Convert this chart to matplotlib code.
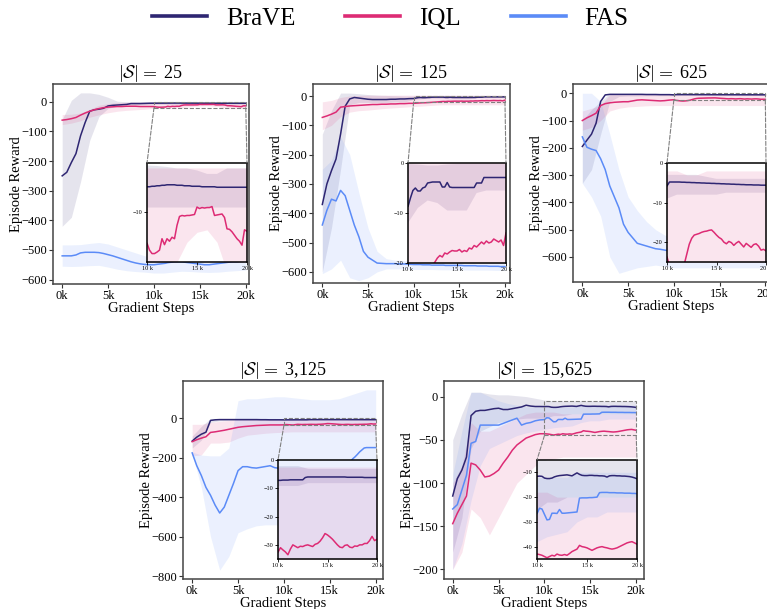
import numpy as np
import matplotlib
matplotlib.use("Agg")
import matplotlib.pyplot as plt
from matplotlib.patches import Rectangle, ConnectionPatch
from matplotlib.lines import Line2D

plt.rcParams["font.family"] = ["Liberation Serif", "DejaVu Serif"]
plt.rcParams["mathtext.fontset"] = "cm"

# x grids: means every 500 steps up to 10k, then every 250 steps (zoomed part)
steps = np.r_[np.arange(0, 10000, 500), np.arange(10000, 20001, 250)]
band_steps = np.arange(0, 20001, 1000)

labels = ["BraVE", "IQL", "FAS"]
colors = ["#2e2672", "#dd2b74", "#5b8bf7"]

# ---------------- |S| = 25 ----------------
brave_25 = [-250, -238, -205, -175, -115, -70, -32, -27, -25, -22,
            -14, -12, -11, -10, -9, -6, -6, -6, -5.5, -5,
            -4.8, -4.8, -4.7, -4.7, -4.6, -4.6, -4.5, -4.5, -4.4, -4.4,
            -4.4, -4.4, -4.5, -4.5, -4.5, -4.6, -4.6, -4.6, -4.7, -4.7,
            -4.7, -4.7, -4.8, -4.8, -4.8, -4.8, -4.8, -4.8, -4.9, -4.9,
            -4.9, -4.9, -4.9, -4.9, -4.9, -4.9, -4.9, -4.9, -4.9, -4.9, -4.9]
iql_25 = [-62, -60, -57, -53, -45, -38, -32, -27, -23, -20,
          -18, -17, -16, -16, -15, -15, -15, -16, -16, -16,
          -16.2, -17.6, -18.3, -18.3, -18.0, -17.6, -15.3, -16.5, -15.3, -15.8,
          -15.0, -15.3, -12.6, -10.8, -10.6, -10.7, -10.6, -10.6, -10.5, -10.4,
          -8.9, -9.2, -9.0, -9.1, -9.0, -9.0, -8.8, -10.6, -10.5, -10.4,
          -10.3, -11.0, -13.3, -13.4, -13.9, -14.6, -15.3, -15.8, -16.6, -13.5, -13.8]
fas_25 = [-520, -520, -520, -517, -510, -508, -508, -508, -509, -512,
          -516, -520, -525, -530, -535, -540, -544, -547, -549, -550,
          -550, -549, -548, -547, -546, -545, -543, -542, -541, -540,
          -540, -540, -540, -541, -542, -543, -544, -545, -546, -547,
          -548, -549, -550, -550, -550, -549, -548, -547, -546, -545,
          -544, -543, -542, -541, -540, -540, -540, -539, -538, -537, -536]
brave_25_lo = [-420, -390, -270, -130, -50, -22, -14, -10, -9, -9, -9,
               -9, -9, -9, -9, -9, -9, -9, -9, -9, -9]
brave_25_hi = [-60, 5, 30, 30, 25, 15, 2, 0, -0.5, -0.5, -0.5,
               -0.6, -0.8, -1.1, -1.1, -1.5, -2.2, -2.2, -1.1, -1.1, -1.1]
iql_25_lo = [-77, -72, -64, -52, -44, -37, -32, -29, -27, -25, -22,
             -22, -21, -20, -16, -14, -13.5, -16, -22, -22, -22]
iql_25_hi = [-43, -42, -38, -25, -12, -6, -3, -2, -1, -1, -1,
             -1, -1, -1, -1, -1, -1, -1, -1, -1, -1]
fas_25_lo = [-555, -556, -555, -553, -552, -558, -565, -570, -573, -575, -578,
             -578, -575, -572, -573, -575, -576, -575, -572, -570, -568]
fas_25_hi = [-483, -483, -482, -478, -475, -480, -490, -500, -510, -520, -525,
             -522, -515, -512, -513, -517, -520, -518, -512, -510, -508]

# ---------------- |S| = 125 ----------------
brave_125 = [-370, -300, -255, -215, -130, -35, -10, -5, -7, -9,
             -11, -12, -12, -12, -12, -11, -11, -10, -10, -9,
             -8.7, -7.0, -5.5, -5.0, -5.6, -5.6, -5.0, -4.8, -4.0, -3.9,
             -3.8, -3.8, -3.8, -3.8, -4.8, -4.8, -3.9, -4.8, -4.9, -4.9,
             -4.9, -4.9, -4.9, -4.9, -4.9, -4.9, -4.9, -4.9, -4.0, -4.0,
             -4.0, -2.9, -2.9, -2.9, -2.9, -2.9, -2.9, -2.9, -2.9, -2.9, -2.9]
iql_125 = [-73, -68, -62, -55, -38, -36, -34, -33, -32, -31,
           -30, -29, -29, -28, -28, -27, -27, -26, -26, -25,
           -25.0, -24.5, -24.0, -23.5, -23.0, -23.0, -22.5, -22.0, -21.5, -21.0,
           -20.5, -19.8, -19.0, -18.5, -18.8, -18.0, -18.2, -17.8, -17.5, -17.6,
           -17.6, -17.3, -17.8, -17.5, -17.7, -17.0, -17.2, -16.5, -16.8, -16.3,
           -15.8, -16.2, -15.6, -16.0, -15.8, -15.2, -15.5, -15.8, -15.4, -16.5, -14.0]
fas_125 = [-440, -390, -352, -358, -322, -340, -390, -440, -480, -530,
           -550, -560, -570, -571, -572, -572, -572, -573, -573, -574,
           -575, -575, -575, -575, -576, -576, -576, -576, -577, -577,
           -577, -577, -577, -577, -578, -578, -578, -578, -578, -578,
           -578, -578, -579, -579, -579, -579, -579, -579, -580, -580,
           -580, -580, -580, -581, -581, -581, -581, -581, -582, -582, -582]
brave_125_lo = [-600, -450, -250, -30, -22, -22, -22, -22, -20, -20, -12,
                -9, -7.5, -8, -9.5, -9.5, -9.5, -6, -5.5, -5.5, -5.5]
brave_125_hi = [-130, -50, 10, 10, 8, 5, 3, 2, 1, 0, -0.2,
                -0.3, -0.5, -0.5, -0.3, -0.2, -0.2, -0.2, -0.2, -0.2, -0.2]
iql_125_lo = [-115, -100, -70, -55, -50, -48, -45, -42, -40, -38, -36,
              -34, -32, -30, -30, -30, -30, -30, -30, -30, -30]
iql_125_hi = [-20, -15, -5, 0, 2, 3, 3, 3, 3, 3, 3,
              3, 3, 3, 3, 3, 3, 3, 3, 3, 3]
fas_125_lo = [-606, -590, -560, -620, -630, -620, -600, -590, -590, -590, -592,
              -592, -592, -593, -593, -593, -594, -594, -594, -595, -595]
fas_125_hi = [-250, -220, -140, -200, -330, -450, -530, -555, -560, -562, -563,
              -563, -564, -564, -565, -565, -566, -566, -567, -568, -568]

# ---------------- |S| = 625 ----------------
brave_625 = [-195, -172, -150, -110, -30, -6, -4, -4, -4, -4,
             -4, -4, -4, -4, -4.5, -4.5, -4.5, -5, -5, -5,
             -5.8, -4.8, -4.8, -4.8, -4.8, -4.8, -4.85, -4.85, -4.9, -4.9,
             -4.95, -4.95, -5.0, -5.0, -5.05, -5.05, -5.1, -5.1, -5.15, -5.15,
             -5.2, -5.2, -5.25, -5.25, -5.3, -5.3, -5.35, -5.35, -5.4, -5.4,
             -5.45, -5.45, -5.5, -5.5, -5.5, -5.55, -5.55, -5.55, -5.6, -5.6, -5.6]
iql_625 = [-100, -90, -82, -73, -45, -38, -35, -33, -32, -31,
           -31, -28, -25, -24, -25, -26, -27, -28, -27, -25,
           -23.7, -26.0, -27.0, -28.0, -28.5, -28.0, -27.0, -25.5, -23.0, -20.5,
           -19.0, -18.2, -18.0, -17.8, -17.5, -17.3, -17.2, -17.0, -16.9, -17.5,
           -18.2, -18.8, -19.2, -20.0, -20.4, -19.8, -20.1, -20.8, -20.2, -19.8,
           -20.5, -21.2, -20.3, -20.8, -21.3, -20.6, -20.4, -21.0, -22.0, -21.8, -22.2]
fas_625 = [-160, -198, -205, -210, -240, -280, -340, -380, -420, -480,
           -510, -530, -550, -555, -560, -565, -570, -572, -575, -578,
           -580, -581, -582, -582, -583, -583, -584, -584, -585, -585,
           -586, -586, -587, -587, -588, -588, -588, -589, -589, -589,
           -590, -590, -590, -591, -591, -591, -592, -592, -592, -592,
           -593, -593, -593, -593, -594, -594, -594, -594, -595, -595, -595]
brave_625_lo = [-330, -280, -150, -30, -12, -10, -10, -9, -9, -9, -9,
                -8, -8, -8, -8, -8, -7.5, -7.5, -7.5, -7.5, -7.5]
brave_625_hi = [-100, -60, -30, 0, -1, -1, -1, -1, -1, -2, -3,
                -3, -3, -3, -3.5, -4, -4, -4, -4, -4, -4]
iql_625_lo = [-135, -125, -100, -65, -55, -50, -48, -46, -45, -45, -45,
              -45, -45, -45, -45, -45, -45, -45, -45, -45, -45]
iql_625_hi = [-65, -55, -45, -5, -2, -2, -2, -2, -2, -2, -2,
              -2, -3, -3, -2, -2, -2, -2, -2, -2, -2]
fas_625_lo = [-330, -380, -450, -600, -660, -650, -640, -635, -630, -635, -640,
              -640, -640, -640, -640, -640, -640, -640, -640, -640, -640]
fas_625_hi = [0, 0, -30, -150, -280, -380, -430, -470, -500, -520, -530,
              -535, -540, -540, -545, -545, -545, -545, -545, -545, -545]

# ---------------- |S| = 3,125 ----------------
brave_3125 = [-115, -95, -80, -70, -10, -7, -6, -6, -6, -6,
              -6, -6, -6, -6, -6, -6.5, -6.5, -7, -7, -7,
              -7.2, -7.2, -7.1, -7.1, -7.1, -7.0, -7.0, -7.0, -7.0, -7.0,
              -7.0, -6.2, -6.0, -6.0, -6.0, -6.0, -6.0, -6.0, -6.0, -6.0,
              -6.0, -6.0, -6.0, -6.0, -6.0, -6.0, -6.0, -6.0, -6.1, -6.1,
              -6.1, -6.1, -6.1, -6.1, -6.1, -6.2, -6.2, -6.2, -6.2, -6.2, -6.2]
iql_3125 = [-118, -108, -100, -93, -71, -68, -64, -60, -55, -50,
            -45, -42, -40, -38, -36, -35, -34, -33, -33, -33,
            -32.6, -31.0, -31.8, -32.5, -33.5, -31.5, -30.0, -30.5, -31.0, -30.5,
            -30.6, -30.2, -30.0, -30.3, -30.6, -29.8, -29.5, -28.7, -27.5, -26.0,
            -26.5, -27.2, -28.0, -29.0, -30.0, -30.8, -31.0, -30.2, -30.0, -30.8,
            -31.0, -30.4, -30.5, -30.0, -30.0, -29.5, -29.5, -28.5, -27.0, -28.5, -28.0]
fas_3125 = [-175, -240, -290, -350, -390, -440, -480, -450, -390, -330,
            -265, -245, -245, -250, -252, -248, -244, -240, -250, -253,
            -255, -255, -254, -254, -253, -252, -252, -251, -250, -250,
            -249, -248, -248, -247, -246, -245, -245, -244, -243, -242,
            -241, -240, -240, -239, -238, -237, -236, -235, -230, -220,
            -205, -195, -183, -170, -160, -150, -148, -148, -148, -148, -148]
brave_3125_lo = [-150, -110, -20, -12, -10, -10, -10, -10, -10, -10, -9,
                 -9, -9, -8, -8, -8, -8, -8, -8, -8, -8]
brave_3125_hi = [-90, -40, 0, 0, 0, 0, 0, 0, 0, 0, -2,
                 -2, -2, -3, -3, -3, -3, -3, -3, -3, -3]
iql_3125_lo = [-190, -185, -125, -125, -120, -100, -85, -80, -75, -72, -70,
               -68, -68, -68, -68, -68, -68, -68, -68, -68, -68]
iql_3125_hi = [-30, -30, -20, -15, -10, -5, -3, -2.5, -2.5, -2.5, -2.5,
               -2.5, -2.5, -2.5, -2.5, -2.5, -2.5, -2.5, -2.5, -2.5, -2.5]
fas_3125_lo = [-180, -350, -600, -770, -700, -580, -560, -545, -540, -540, -540,
               -535, -530, -520, -510, -500, -490, -470, -440, -420, -420]
fas_3125_hi = [-170, -186, -190, -190, -150, 90, 100, 100, 105, 110, 110,
               105, 100, 95, 95, 95, 100, 115, 130, 145, 145]

# ---------------- |S| = 15,625 ----------------
brave_15625 = [-115, -95, -85, -70, -22, -17, -16, -16, -15, -14,
               -13.5, -15, -15, -14, -13, -12, -10, -11, -11.5, -11.5,
               -11.6, -11.5, -11.6, -12.3, -12.5, -12.5, -12.3, -11.8, -11.5, -11.3,
               -11.2, -11.1, -11.0, -11.2, -11.4, -10.8, -10.2, -10.8, -11.2, -11.3,
               -11.3, -11.2, -11.2, -11.3, -11.3, -11.4, -11.4, -11.5, -11.9, -11.4,
               -11.3, -11.3, -11.4, -11.4, -11.5, -11.5, -11.6, -11.7, -11.9, -12.2, -12.6]
iql_15625 = [-147, -135, -125, -115, -77, -79, -85, -93, -92, -89,
             -85, -77, -70, -62, -56, -52, -48, -46, -44, -43,
             -43.0, -43.2, -43.5, -44.0, -44.5, -44.0, -43.5, -43.8, -43.0, -43.4,
             -43.5, -43.2, -43.5, -42.8, -42.0, -41.5, -41.0, -39.5, -40.0, -40.2,
             -40.5, -41.0, -41.5, -41.0, -40.5, -40.2, -40.0, -40.3, -40.5, -40.8,
             -41.0, -40.8, -40.5, -40.0, -39.5, -39.0, -38.5, -38.2, -38.0, -38.5, -39.0]
fas_15625 = [-130, -125, -108, -91, -54, -52, -33, -33, -33, -33,
             -33, -31, -29, -27, -25, -33, -31, -30, -28, -27,
             -26.7, -24.5, -24.8, -27.0, -29.2, -29.0, -26.5, -26.5, -26.6, -25.0,
             -26.5, -26.5, -26.4, -26.3, -26.2, -26.1, -26.0, -20.4, -20.3, -20.3,
             -20.3, -20.2, -20.2, -20.1, -20.0, -18.2, -18.1, -18.1, -18.1, -18.2,
             -18.2, -18.2, -18.3, -18.3, -18.3, -18.4, -18.4, -18.4, -18.5, -18.5, -18.6]
brave_15625_lo = [-180, -140, -60, -40, -35, -30, -28, -26, -25, -25, -25,
                  -22, -22, -20, -20, -20, -20, -20, -20, -20, -20]
brave_15625_hi = [-50, -20, 5, 5, 3, 2, 2, 1, 0, -2, -4,
                  -5, -5, -5, -5, -5, -5, -5, -5, -5, -5]
iql_15625_lo = [-200, -180, -130, -140, -160, -140, -120, -100, -90, -80, -75,
                -72, -70, -70, -70, -70, -70, -70, -70, -70, -70]
iql_15625_hi = [-100, -80, -30, -40, -40, -35, -30, -25, -20, -18, -18,
                -18, -20, -20, -20, -20, -20, -20, -20, -20, -20]
fas_15625_lo = [-200, -170, -120, -80, -60, -55, -50, -45, -42, -40, -38,
                -36, -35, -34, -30, -28, -28, -26, -26, -26, -26]
fas_15625_hi = [-90, -40, 5, 5, 0, -5, -8, -10, -12, -12, -12,
                -12, -12, -12, -10, -10, -10, -10, -10, -10, -10]

titles = ["25", "125", "625", "3,125", "15,625"]

panels = [
    dict(means=[brave_25, iql_25, fas_25],
         bands=[(brave_25_lo, brave_25_hi), (iql_25_lo, iql_25_hi), (fas_25_lo, fas_25_hi)],
         box=(53, 84, 249, 284), inset=(147, 163, 247, 262),
         ylim=(-615, 60), xlim=(-1000, 20350), yticks=np.arange(-600, 1, 100),
         in_ylim=(-20, 0), in_yticks=[-10]),
    dict(means=[brave_125, iql_125, fas_125],
         bands=[(brave_125_lo, brave_125_hi), (iql_125_lo, iql_125_hi), (fas_125_lo, fas_125_hi)],
         box=(313, 84, 510, 283), inset=(408, 163, 506, 263),
         ylim=(-638, 41), xlim=(-1020, 20550), yticks=np.arange(-600, 1, 100),
         in_ylim=(-20, 0), in_yticks=[-20, -10, 0]),
    dict(means=[brave_625, iql_625, fas_625],
         bands=[(brave_625_lo, brave_625_hi), (iql_625_lo, iql_625_hi), (fas_625_lo, fas_625_hi)],
         box=(573, 84, 769, 282), inset=(667, 163, 766, 262),
         ylim=(-692, 34), xlim=(-1020, 20400), yticks=np.arange(-600, 1, 100),
         in_ylim=(-25, 0), in_yticks=[-20, -10, 0]),
    dict(means=[brave_3125, iql_3125, fas_3125],
         bands=[(brave_3125_lo, brave_3125_hi), (iql_3125_lo, iql_3125_hi), (fas_3125_lo, fas_3125_hi)],
         box=(183, 381, 383, 579), inset=(278, 460, 377, 559),
         ylim=(-815, 190), xlim=(-1000, 20800), yticks=np.arange(-800, 1, 200),
         in_ylim=(-35, 0), in_yticks=[-30, -20, -10, 0]),
    dict(means=[brave_15625, iql_15625, fas_15625],
         bands=[(brave_15625_lo, brave_15625_hi), (iql_15625_lo, iql_15625_hi), (fas_15625_lo, fas_15625_hi)],
         box=(444, 381, 644, 579), inset=(537, 460, 637, 559),
         ylim=(-211, 18), xlim=(-950, 20850), yticks=np.arange(-200, 1, 50),
         in_ylim=(-45, -5), in_yticks=[-40, -30, -20, -10]),
]

W, H = 767, 609
fig = plt.figure(figsize=(W / 100, H / 100), dpi=100)


def px_axes(l, t, r, b):
    return fig.add_axes([l / W, 1 - b / H, (r - l) / W, (b - t) / H])


def draw_series(ax, p):
    for (lo, hi), c in zip(p["bands"], colors):
        ax.fill_between(band_steps, lo, hi, color=c, alpha=0.12, lw=0)
    for m, c in zip(p["means"], colors):
        ax.plot(steps, m, color=c, lw=1.1)


for p, title in zip(panels, titles):
    ax = px_axes(*p["box"])
    draw_series(ax, p)
    ax.set_xlim(*p["xlim"])
    ax.set_ylim(*p["ylim"])
    ax.set_xticks([0, 5000, 10000, 15000, 20000])
    ax.set_xticklabels(["0k", "5k", "10k", "15k", "20k"])
    ax.set_yticks(p["yticks"])
    ax.tick_params(labelsize=9, length=3, width=0.8, color="#333333", pad=1.5)
    for s in ax.spines.values():
        s.set_color("#444444")
        s.set_linewidth(1.1)
    ax.set_xlabel("Gradient Steps", fontsize=10.5, labelpad=0)
    ax.set_ylabel("Episode Reward", fontsize=10.5)
    # put the y label about 30 px left of the frame
    width_px = p["box"][2] - p["box"][0]
    ax.yaxis.set_label_coords(-30 / width_px, 0.5)
    ax.set_title(r"$|\mathcal{S}| =$ " + title, fontsize=13, pad=2)

    # zoomed inset
    axin = px_axes(*p["inset"])
    draw_series(axin, p)
    axin.set_xlim(10000, 20000)
    axin.set_ylim(*p["in_ylim"])
    axin.set_xticks([10000, 15000, 20000])
    axin.set_xticklabels(["10 k", "15 k", "20 k"])
    axin.set_yticks(p["in_yticks"])
    axin.tick_params(labelsize=4.5, length=2, width=0.6, pad=1)
    for s in axin.spines.values():
        s.set_color("black")
        s.set_linewidth(1.1)

    ylo, yhi = p["in_ylim"]
    ax.add_patch(Rectangle((10000, ylo), 10000, yhi - ylo, fill=False,
                           ls="--", ec="#808080", lw=0.8, zorder=5))
    for xa, xb in [(10000, 0), (20000, 1)]:
        con = ConnectionPatch(xyA=(xa, ylo), coordsA=ax.transData,
                              xyB=(xb, 1), coordsB=axin.transAxes,
                              ls="--", color="#808080", lw=0.8)
        fig.add_artist(con)

handles = [Line2D([], [], color=c, lw=2.6) for c in colors]
fig.legend(handles, labels, loc="upper center", bbox_to_anchor=(0.509, 1.025),
           ncol=3, frameon=False, fontsize=18, handlelength=2.2,
           handletextpad=0.75, columnspacing=2.0)

fig.savefig("out.png", dpi=100)
